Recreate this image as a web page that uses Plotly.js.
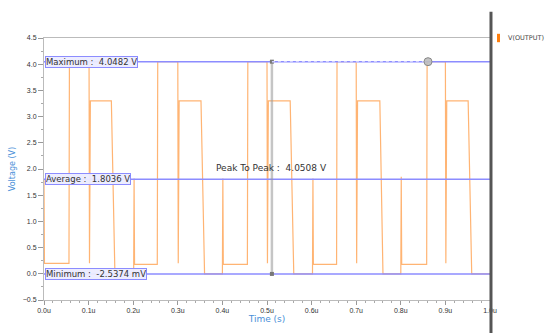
<!DOCTYPE html>
<html>
<head>
<meta charset="utf-8">
<script src="https://cdn.plot.ly/plotly-3.0.1.min.js"></script>
<style>html,body{margin:0;padding:0;background:#fff;}#chart{width:560px;height:333px;}</style>
</head>
<body>
<div id="chart"></div>
<script>
// Time (in u) and voltage of V(OUTPUT)
const timeU = [0.000,0.001,0.056,0.057,0.101,0.102,0.104,0.151,0.159,0.201,0.202,0.203,0.254,0.255,0.300,0.301,0.303,0.352,0.360,0.400,0.401,0.402,0.456,0.457,0.500,0.501,0.503,0.552,0.560,0.602,0.603,0.604,0.656,0.657,0.700,0.701,0.703,0.753,0.760,0.800,0.801,0.802,0.858,0.859,0.900,0.901,0.903,0.951,0.959,1.000];
const voltage = [1.80,0.20,0.20,4.048,4.048,0.20,3.30,3.30,0.00,0.00,1.82,0.18,0.18,4.048,4.048,0.20,3.30,3.30,0.00,0.00,1.82,0.18,0.18,4.048,4.048,0.20,3.30,3.30,0.00,0.00,1.82,0.18,0.18,4.048,4.048,0.20,3.30,3.30,0.00,0.00,1.85,0.18,0.18,4.048,4.048,0.20,3.30,3.30,0.00,0.00];

const measureNames = ['Maximum', 'Average', 'Minimum'];
const measureValues = [4.0482, 1.8036, -0.0025374];
const measureTexts = ['4.0482 V', '1.8036 V', '-2.5374 mV'];
const peakToPeakText = '4.0508 V';
const cursorTimes = [0.511, 0.861];

const xTickVals = [0,0.1,0.2,0.3,0.4,0.5,0.6,0.7,0.8,0.9,1.0];
const xTickText = ['0.0u','0.1u','0.2u','0.3u','0.4u','0.5u','0.6u','0.7u','0.8u','0.9u','1.0u'];
const yTickVals = [-0.5,0,0.5,1,1.5,2,2.5,3,3.5,4,4.5];
const yTickText = ['−0.5','0.0','0.5','1.0','1.5','2.0','2.5','3.0','3.5','4.0','4.5'];

const traceName = 'V(OUTPUT)';
const FONT = 'Liberation Sans, Arial, sans-serif';
const WFONT = 'DejaVu Sans, sans-serif';
const PURPLE = 'rgb(140,140,255)';
const ORANGE = 'rgba(255,140,40,0.65)';

const traces = [];
traces.push({x: timeU, y: voltage, mode:'lines', name: traceName, line:{color:ORANGE, width:1.2}, showlegend:false});
// measurement lines
measureValues.forEach(function(v){
  traces.push({x:[0,1], y:[v,v], mode:'lines', line:{color:PURPLE, width:1.5}, showlegend:false, hoverinfo:'skip'});
});
// cursor
traces.push({x:[cursorTimes[0], cursorTimes[0]], y:[measureValues[0], measureValues[2]], mode:'lines+markers',
  line:{color:'rgba(150,150,150,0.55)', width:2.5}, marker:{symbol:'square', size:4, color:'#777'}, showlegend:false, hoverinfo:'skip'});
traces.push({x:[cursorTimes[0], cursorTimes[1]], y:[measureValues[0], measureValues[0]], mode:'lines',
  line:{color:'rgba(205,205,255,1)', width:1.5, dash:'dot'}, showlegend:false, hoverinfo:'skip'});
traces.push({x:[cursorTimes[1]], y:[measureValues[0]], mode:'markers',
  marker:{symbol:'circle', size:8, color:'rgba(190,190,190,0.9)', line:{color:'#888', width:1}}, showlegend:false, hoverinfo:'skip'});

const annotations = measureNames.map(function(n, i){
  return {xref:'paper', x:0.003, xanchor:'left', yref:'y', y:measureValues[i], yanchor:'middle',
    text: n + ' :  ' + measureTexts[i], showarrow:false,
    font:{family:WFONT, size:8.5, color:'#333'}, bgcolor:'rgba(236,236,255,0.95)', bordercolor:PURPLE, borderwidth:1, borderpad:0};
});
annotations.push({xref:'x', x:cursorTimes[0], yref:'y', y:2.02, text:'Peak To Peak :  ' + peakToPeakText, showarrow:false,
  font:{family:WFONT, size:9, color:'#333'}});
annotations.push({xref:'paper', x:1.036, xanchor:'left', yref:'paper', y:1.0, yanchor:'middle', text:traceName, showarrow:false,
  font:{family:WFONT, size:6.5, color:'#444'}});

const shapes = [
  {type:'line', xref:'paper', yref:'paper', x0:1.0022, x1:1.0022, y0:-0.13, y1:1.1, line:{color:'#555', width:3}},
  {type:'rect', xref:'paper', yref:'paper', x0:1.0157, x1:1.0224, y0:0.984, y1:1.016, fillcolor:'#ff7f0e', line:{width:0}}
];

const layout = {
  width:560, height:333,
  margin:{l:44, r:70, t:38, b:33},
  paper_bgcolor:'#fff', plot_bgcolor:'#fff',
  showlegend:false,
  font:{family:FONT, size:7, color:'#333'},
  xaxis:{range:[0,1], tickvals:xTickVals, ticktext:xTickText, ticks:'outside', ticklen:4, tickcolor:'#999',
    showgrid:false, zeroline:false, showline:true, linecolor:'#bbb', linewidth:1, mirror:true,
    minor:{dtick:0.02, ticks:'outside', ticklen:2, tickcolor:'#aaa', showgrid:false},
    tickfont:{family:FONT, size:7, color:'#333'},
    title:{text:'Time (s)', font:{family:WFONT, size:9, color:'#4a8fd8'}, standoff:2}},
  yaxis:{range:[-0.5,4.5], tickvals:yTickVals, ticktext:yTickText, ticks:'outside', ticklen:5, tickcolor:'#999',
    showgrid:false, zeroline:false, showline:true, linecolor:'#bbb', linewidth:1, mirror:true,
    minor:{dtick:0.25, ticks:'outside', ticklen:2, tickcolor:'#aaa', showgrid:false},
    tickfont:{family:FONT, size:7, color:'#333'},
    title:{text:'Voltage (V)', font:{family:WFONT, size:8, color:'#4a8fd8'}, standoff:5}},
  annotations: annotations,
  shapes: shapes
};

Plotly.newPlot('chart', traces, layout, {displayModeBar:false, staticPlot:true});
</script>
</body>
</html>
